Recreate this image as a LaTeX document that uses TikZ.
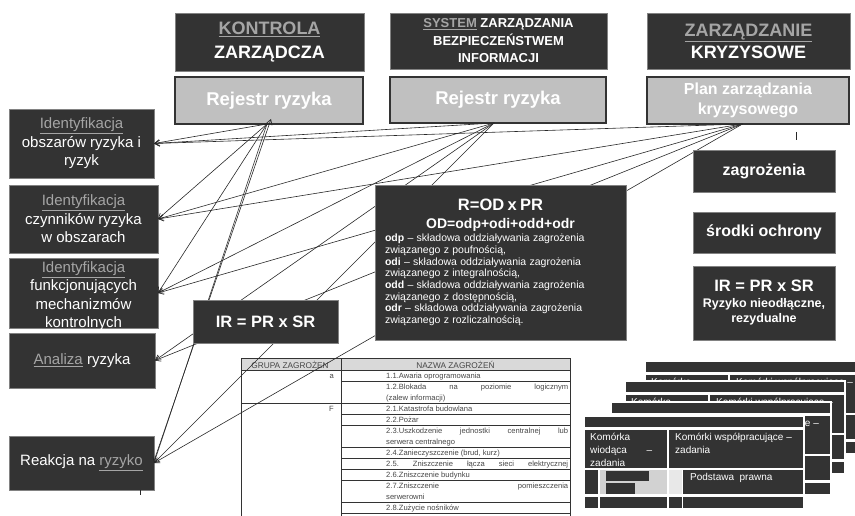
\documentclass[tikz,border=0pt]{standalone}
\usepackage{fontspec}
\setmainfont{Liberation Sans}
\usetikzlibrary{arrows.meta}
\frenchspacing
\definecolor{boxdark}{RGB}{51,51,51}
\definecolor{boxedge}{RGB}{130,130,130}
\definecolor{regfill}{RGB}{192,192,192}
\definecolor{hlgray}{RGB}{165,165,165}
\definecolor{linkgray}{RGB}{40,40,40}
\definecolor{headfill}{RGB}{217,217,217}
\definecolor{tabletext}{RGB}{70,70,70}
\definecolor{cellgray}{RGB}{210,210,210}
\definecolor{celllight}{RGB}{232,232,232}
\newcommand\grayul[1]{{\color{hlgray}\underline{#1}}}
\tikzset{
  >={Straight Barb[length=5pt,width=6pt]},
  darkbox/.style={fill=boxdark,draw=boxedge,line width=0.8pt,text=white,align=center,
    inner sep=0pt,outer sep=0pt,anchor=north west},
  regbox/.style={fill=regfill,draw=boxdark,line width=1.2pt,text=white,align=center,
    inner sep=0pt,outer sep=0pt,anchor=north west,font=\bfseries},
  sidebox/.style={darkbox,font=\fontsize{15}{18.5}\selectfont},
  link/.style={->,draw=linkgray,line width=0.6pt},
  tline/.style={draw=black!80,line width=0.9pt},
  ttext/.style={font=\fontsize{7.6}{11}\selectfont,text=tabletext,inner sep=0pt},
  cardtext/.style={font=\fontsize{10}{13}\selectfont,text=white,inner sep=0pt},
  % one sheet of the task cards (cells and its top line)
  pics/card/.style={code={
    \fill[white] (-2,-2) rectangle (220,93);
    \fill[boxdark] (0,0) rectangle (218,10);
    \fill[boxdark] (0,13) rectangle (82,51);
    \fill[boxdark] (84,13) rectangle (218,51);
    \fill[boxdark] (0,53) rectangle (13,77);
    \fill[cellgray] (15,53) rectangle (82,77);
    \fill[boxdark] (21,54) rectangle (64,64);
    \fill[boxdark] (21,66) rectangle (50,77);
    \fill[celllight] (84,53) rectangle (97,77);
    \fill[boxdark] (98,53) rectangle (218,77);
    \foreach \a/\b in {0/13,15/82,84/97,98/218}
      \fill[boxdark] (\a,80) rectangle (\b,91);
    \node[cardtext,anchor=base west] (-k1) at (5,23.6) {Komórka};
    \node[cardtext,anchor=base west] (-w1) at (90,23.6) {Komórki współpracujące –};
  }},
  % the sheet on top shows all of its text
  pics/frontcard/.style={code={
    \pic (-s) {card};
    \node[cardtext,anchor=base west] (-k2) at (5,36.6) {\makebox[62pt][s]{wiodąca –}};
    \node[cardtext,anchor=base west] (-k3) at (5,49.6) {zadania};
    \node[cardtext,anchor=base west] (-w2) at (90,36.6) {zadania};
    \node[cardtext,anchor=base west] (-law) at (105,63.6) {Podstawa\ \ prawna};
  }},
}
\begin{document}
\begin{tikzpicture}[x=1pt,y=-1pt]
  \useasboundingbox (0,0) rectangle (855,516);
  \clip (0,0) rectangle (855,516);
  % three systems
  \node[darkbox,minimum width=189pt,minimum height=58pt,font=\fontsize{18}{24}\selectfont\bfseries]
    (kz) at (175,13) {\grayul{KONTROLA}\\ZARZĄDCZA};
  \node[darkbox,minimum width=217pt,minimum height=56pt,font=\fontsize{13}{17.5}\selectfont\bfseries]
    (szbi) at (390,13) {\grayul{SYSTEM} ZARZĄDZANIA\\BEZPIECZEŃSTWEM\\INFORMACJI};
  \node[darkbox,minimum width=203pt,minimum height=56pt,font=\fontsize{18}{22}\selectfont\bfseries]
    (zk) at (647,13) {\grayul{ZARZĄDZANIE}\\KRYZYSOWE};
  \node[regbox,minimum width=188pt,minimum height=47pt,font=\fontsize{18.5}{22}\selectfont\bfseries]
    (reg1) at (175,77) {Rejestr ryzyka};
  \node[regbox,minimum width=216pt,minimum height=46pt,font=\fontsize{18.5}{22}\selectfont\bfseries]
    (reg2) at (390,77) {Rejestr ryzyka};
  \node[regbox,minimum width=202pt,minimum height=47pt,font=\fontsize{16}{20}\selectfont\bfseries]
    (plan) at (647,77) {Plan zarządzania\\kryzysowego};

  % process steps
  \node[sidebox,minimum width=145pt,minimum height=69pt] (id1) at (9,109)
    {\grayul{Identyfikacja}\\obszarów ryzyka i\\ryzyk};
  \node[sidebox,minimum width=149pt,minimum height=68pt] (id2) at (9,185)
    {\grayul{Identyfikacja}\\czynników ryzyka\\w obszarach};
  \node[sidebox,minimum width=149pt,minimum height=70pt] (id3) at (9,258) {};
  \node[text=white,align=center,inner sep=0pt,font=\fontsize{15}{18.3}\selectfont]
    (id3txt) at ([yshift=-3pt]id3.center)
    {\grayul{Identyfikacja}\\funkcjonujących\\mechanizmów\\kontrolnych};
  \node[sidebox,minimum width=146pt,minimum height=55pt] (id4) at (9,333)
    {\grayul{Analiza} ryzyka};
  \node[sidebox,minimum width=145pt,minimum height=54pt] (id5) at (9,436)
    {Reakcja na \grayul{ryzyko}};

  % threat table
  \fill[headfill] (241,358) rectangle (570,370);
  \draw[tline] (241,358) -- (570,358) (241,370) -- (570,370) (241,403) -- (570,403);
  \draw[tline] (241,358) -- (241,520) (341,358) -- (341,520) (570,358) -- (570,520);
  \foreach \yy in {381,414,425,447,458,469,480,502,513}
    \draw[tline] (341,\yy) -- (570,\yy);
  \node[ttext,font=\fontsize{8.3}{10}\selectfont] (grp) at (290,364.5) {GRUPA ZAGROŻEN};
  \node[ttext,font=\fontsize{8.3}{10}\selectfont] (nzw) at (455.5,364.5) {NAZWA ZAGROŻEŃ};
  \node[ttext,anchor=base east] (ga) at (334,378.2) {a};
  \node[ttext,anchor=base east] (gf) at (334,411.2) {F};
  \foreach \yy/\txt [count=\k] in {
    375.5/{1.1.Awaria oprogramowania},
    386.5/{\makebox[182pt][s]{1.2.Blokada na poziomie logicznym}},
    408.5/{2.1.Katastrofa budowlana},
    419.5/{2.2.Pożar},
    430.5/{\makebox[182pt][s]{2.3.Uszkodzenie jednostki centralnej lub}},
    452.5/{2.4.Zanieczyszczenie (brud, kurz)},
    463.5/{\makebox[182pt][s]{2.5. Zniszczenie łącza sieci elektrycznej}},
    474.5/{2.6.Zniszczenie budynku},
    485.5/{\makebox[182pt][s]{2.7.Zniszczenie pomieszczenia}},
    507.5/{2.8.Zużycie nośników}}
    \node[ttext,anchor=base west] (nm\k) at (386,\yy+2.7) {\txt};
  \node[ttext,anchor=base west] (nm2b) at ([yshift=-11pt]nm2.base west) {(zalew informacji)};
  \node[ttext,anchor=base west] (nm5b) at ([yshift=-11pt]nm5.base west) {serwera centralnego};
  \node[ttext,anchor=base west] (nm9b) at ([yshift=-11pt]nm9.base west) {serwerowni};

  % task cards, back to front
  \pic (c4) at (646,362) {card};
  \pic (c3) at (626,382) {card};
  \pic (c2) at (612,403) {card};
  \pic (c1) at (585,417) {frontcard};

  % links from the registers
  \coordinate (ra) at ([xshift=-2pt]reg1.south);
  \coordinate (rb) at ([xshift=-4pt]reg2.south);
  \coordinate (rc) at ([xshift=-5.5pt]plan.south);
  \foreach \t in {id1,id2,id3,id5}
    \draw[link] (ra) -- (\t.east);
  \foreach \s in {rb,rc}
    \foreach \t in {id1,id2,id3,id4,id5}
      \draw[link] (\s) -- (\t.east);
  \draw[link] ([yshift=2pt]id5.east) -- ([xshift=4pt,yshift=5pt]ra);
  \draw[linkgray,line width=0.8pt] ([xshift=48.5pt,yshift=-8pt]plan.south) -- ++(0,8);
  \draw[linkgray,line width=0.8pt] ([xshift=-14pt]id5.south east) -- ++(0,5);

  % formula boxes
  \node[darkbox,minimum width=251pt,minimum height=155pt,text width=231pt,align=left]
    (rbox) at (375,185) {%
    {\centering\fontsize{16.5}{19}\selectfont\bfseries R=OD x PR\par
     \fontsize{14}{18}\selectfont OD=odp+odi+odd+odr\par}\vspace{1.5pt}
    \fontsize{10.5}{11.7}\selectfont
    \textbf{odp} – składowa oddziaływania zagrożenia\\związanego z poufnością,\\
    \textbf{odi} – składowa oddziaływania zagrożenia\\związanego z integralnością,\\
    \textbf{odd} – składowa oddziaływania zagrożenia\\związanego z dostępnością,\\
    \textbf{odr} – składowa oddziaływania zagrożenia\\związanego z rozliczalnością.};
  \node[darkbox,minimum width=145pt,minimum height=43pt,font=\fontsize{16.5}{20}\selectfont\bfseries]
    (irl) at (193,300) {IR = PR x SR};
  \node[darkbox,minimum width=142pt,minimum height=42pt,font=\fontsize{16}{20}\selectfont\bfseries]
    (zag) at (693,150) {zagrożenia};
  \node[darkbox,minimum width=142pt,minimum height=41pt,font=\fontsize{16}{20}\selectfont\bfseries]
    (srod) at (693,212) {środki ochrony};
  \node[darkbox,minimum width=142pt,minimum height=74pt,font=\fontsize{12.5}{15}\selectfont\bfseries]
    (irr) at (693,266) {{\fontsize{16.5}{16}\selectfont IR = PR x SR}\\[1pt]Ryzyko nieodłączne,\\rezydualne};
\end{tikzpicture}
\end{document}
